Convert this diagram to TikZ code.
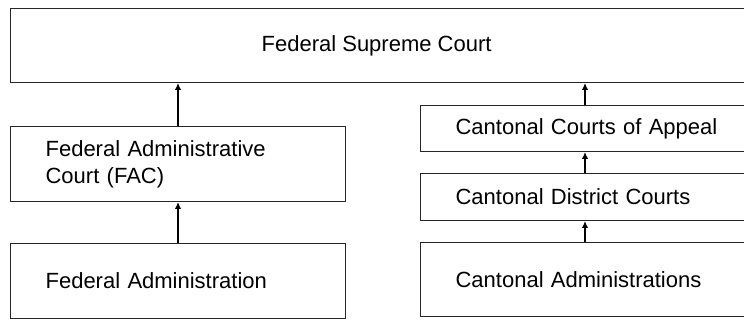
\documentclass[tikz,border=0pt]{standalone}
\usepackage{fontspec}
\setmainfont{Liberation Sans}
\usetikzlibrary{arrows.meta}
\begin{document}
\begin{tikzpicture}[x=1pt,y=1pt,
  box/.style={draw=black!85, line width=1.2pt, anchor=south west, inner ysep=0pt,
    font=\fontsize{22}{27}\selectfont},
  lbox/.style={box, inner xsep=35pt, align=left},
  arr/.style={draw=black, line width=1.6pt, -{Latex[length=7pt,width=6.5pt]}}]
\clip (0,0) rectangle (744,320);
\useasboundingbox (0,0) rectangle (744,320);
% top box
\node[box, minimum width=750pt, minimum height=74pt,
  label={[xshift=-9pt, font=\fontsize{22}{27}\selectfont]center:Federal Supreme Court}] (sup) at (10,237) {};
% left column
\node[lbox, text width=265pt, minimum height=75pt] (fac) at (10,118) {Federal Administrative\\Court (FAC)};
\node[lbox, text width=265pt, minimum height=75pt] (fadm) at (10,1) {Federal Administration};
% right column
\node[lbox, text width=310pt, minimum height=46pt] (app) at (420,168) {Cantonal Courts of Appeal};
\node[lbox, text width=310pt, minimum height=47pt] (dist) at (420,99) {Cantonal District Courts};
\node[lbox, text width=310pt, minimum height=74pt] (cadm) at (420,3) {Cantonal Administrations};
% arrow columns
\coordinate (la) at (178,0);
\coordinate (ra) at (585,0);
\draw[arr] (fadm.north -| la) -- (fac.south -| la);
\draw[arr] (fac.north -| la) -- (sup.south -| la);
\draw[arr] (cadm.north -| ra) -- (dist.south -| ra);
\draw[arr] (dist.north -| ra) -- (app.south -| ra);
\draw[arr] (app.north -| ra) -- (sup.south -| ra);
\end{tikzpicture}
\end{document}
